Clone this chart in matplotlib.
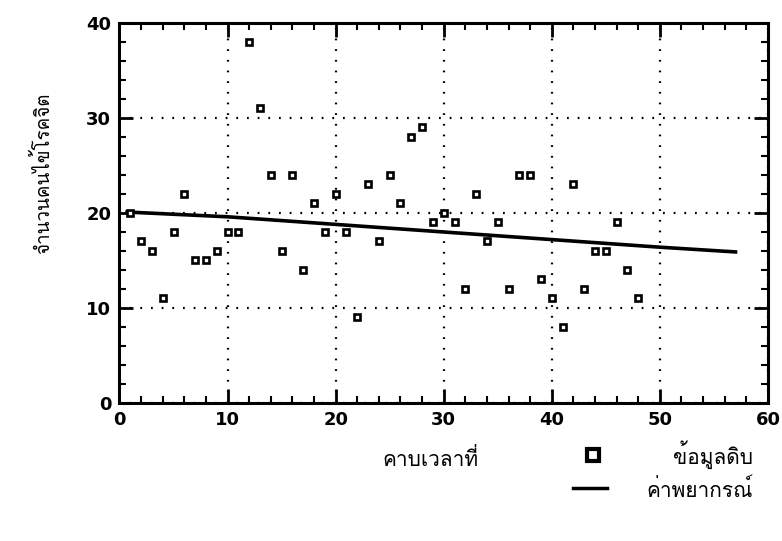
import matplotlib
matplotlib.use("Agg")
import matplotlib.pyplot as plt
from matplotlib import font_manager, ft2font
from matplotlib.ticker import MultipleLocator

# raw data: period vs number of patients
periods = list(range(1, 49))
patients = [20, 17, 16, 11, 18, 22, 15, 15, 16, 18,
            18, 38, 31, 24, 16, 24, 14, 21, 18, 22,
            18, 9, 23, 17, 24, 21, 28, 29, 19, 20,
            19, 12, 22, 17, 19, 12, 24, 24, 13, 11,
            8, 23, 12, 16, 16, 19, 14, 11]

# forecast line
trend_x = [0.7, 10, 20, 30, 40, 50, 57]
trend_y = [20.1, 19.6, 18.8, 18.0, 17.2, 16.4, 15.9]

xlabel = "คาบเวลาที่"
ylabel = "จำนวนคนไข้โรคจิต"
legend_labels = ["ข้อมูลดิบ", "ค่าพยากรณ์"]

# find something that can draw Thai
thai_font = None
for f in font_manager.fontManager.ttflist:
    try:
        if 0x0E04 in ft2font.FT2Font(f.fname).get_charmap():
            thai_font = f.name
            break
    except Exception:
        pass
thai_family = [thai_font, "DejaVu Sans"] if thai_font else ["DejaVu Sans"]

fig = plt.figure(figsize=(7.82, 5.41), dpi=100)
ax = fig.add_axes([0.1528, 0.2551, 0.8292, 0.7024])

ax.plot(trend_x, trend_y, color="black", lw=2.6, zorder=3)
ax.plot(periods, patients, ls="none", marker="s", ms=4.5, mfc="white",
        mec="black", mew=1.9, zorder=4)

ax.set_xlim(0, 60)
ax.set_ylim(0, 40)
ax.xaxis.set_major_locator(MultipleLocator(10))
ax.xaxis.set_minor_locator(MultipleLocator(2))
ax.yaxis.set_major_locator(MultipleLocator(10))
ax.yaxis.set_minor_locator(MultipleLocator(2))
ax.tick_params(which="both", direction="in", top=True, right=True, color="black")
ax.tick_params(which="major", length=10, width=2, labelsize=13, pad=6)
ax.tick_params(which="minor", length=5, width=1.5)
for lab in ax.get_xticklabels() + ax.get_yticklabels():
    lab.set_fontweight("bold")
for s in ax.spines.values():
    s.set_linewidth(2.2)

ax.grid(which="major", color="black", lw=1.6, ls=(0, (0.8, 4)))

fig.text(0.55, 0.152, xlabel, ha="center", va="center", fontsize=15,
         family=thai_family)
fig.text(0.055, 0.68, ylabel, ha="center", va="center", rotation=90,
         fontsize=13.5, family=thai_family)

# hand made legend at lower right
fig.lines.append(plt.Line2D([0.758], [0.159], transform=fig.transFigure,
                            ls="none", marker="s", ms=9, mfc="white",
                            mec="black", mew=3))
fig.lines.append(plt.Line2D([0.733, 0.776], [0.098, 0.098],
                            transform=fig.transFigure, color="black", lw=2.5))
fig.text(0.963, 0.159, legend_labels[0], ha="right", va="center",
         fontsize=15, family=thai_family)
fig.text(0.963, 0.095, legend_labels[1], ha="right", va="center",
         fontsize=15, family=thai_family)

fig.savefig("out.png", dpi=100)
